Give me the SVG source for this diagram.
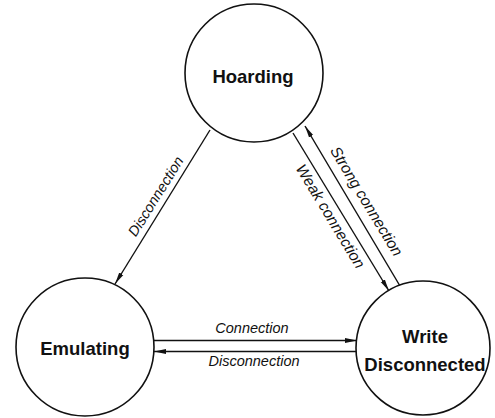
<svg xmlns="http://www.w3.org/2000/svg" width="495" height="418" viewBox="0 0 495 418">
<style>
.node{fill:#fff;stroke:#111;stroke-width:1.6}
.nl{font-family:"Liberation Sans",Arial,sans-serif;font-weight:bold;font-size:18.5px;fill:#111;text-anchor:middle}
.el{font-family:"Liberation Sans",Arial,sans-serif;font-style:italic;font-size:14.5px;fill:#111;text-anchor:middle}
.edge{stroke:#111;stroke-width:1.4;fill:none;marker-end:url(#ah)}
</style>
<defs>
<marker id="ah" viewBox="0 0 12 6" refX="12" refY="3" markerWidth="12" markerHeight="6" markerUnits="userSpaceOnUse" orient="auto">
<path d="M0,0.6 L12,3 L0,5.4 Z" fill="#111"/>
</marker>
</defs>
<rect width="495" height="418" fill="#fff"/>
<g id="connectors">
<line class="edge" x1="210" y1="130" x2="115" y2="284"/>
<line class="edge" x1="293" y1="133" x2="389" y2="291"/>
<line class="edge" x1="400" y1="286" x2="305" y2="126"/>
<line class="edge" x1="153" y1="340.5" x2="357" y2="340.5"/>
<line class="edge" x1="358" y1="351.5" x2="154" y2="351.5"/>
<text class="el" transform="translate(160,199) rotate(-58)">Disconnection</text>
<text class="el" transform="translate(326,219) rotate(58.8)" style="font-size:15.5px">Weak connection</text>
<text class="el" transform="translate(362,204) rotate(58.8)" style="font-size:15.5px">Strong connection</text>
<text class="el" x="252" y="333">Connection</text>
<text class="el" x="254" y="366">Disconnection</text>
</g>
<g id="hoarding">
<circle class="node" cx="254" cy="73" r="69"/>
<text class="nl" x="253" y="83">Hoarding</text>
</g>
<g id="emulating">
<circle class="node" cx="85" cy="347" r="69"/>
<text class="nl" x="85" y="355">Emulating</text>
</g>
<g id="write-disconnected">
<circle class="node" cx="423" cy="348" r="67"/>
<text class="nl" x="425" y="343">Write</text>
<text class="nl" x="425" y="371">Disconnected</text>
</g>
</svg>
